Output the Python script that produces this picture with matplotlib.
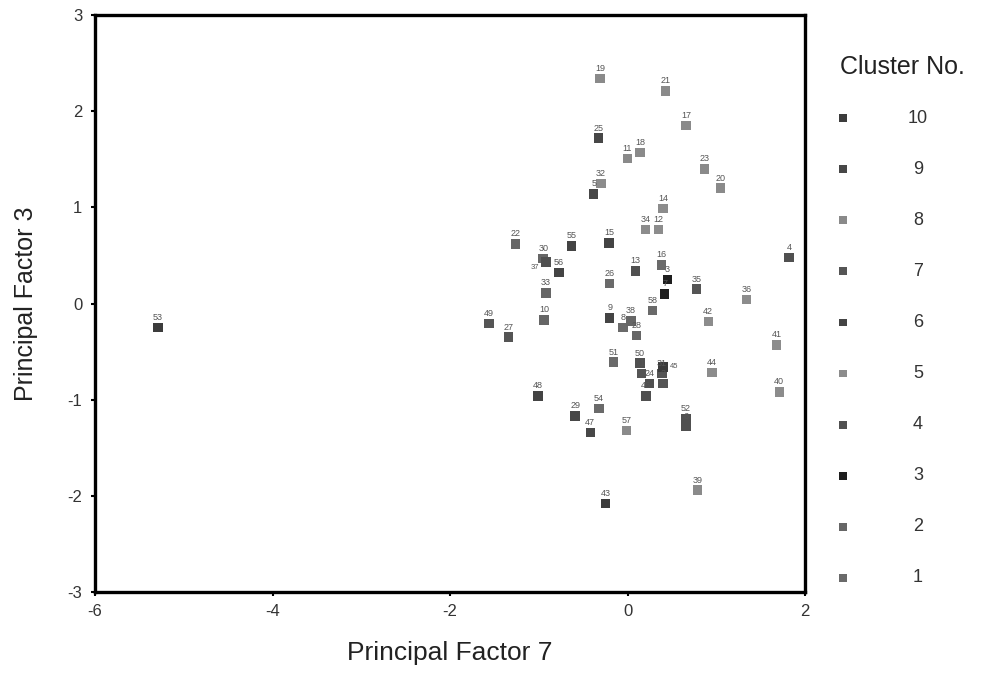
import numpy as np
import matplotlib.pyplot as plt

plt.rcParams['font.family'] = ['Liberation Sans', 'DejaVu Sans']
plt.rcParams['axes.unicode_minus'] = False

# Case labels, positions on the two factors and cluster membership
labels = [53, 19, 21, 17, 25, 18, 11, 23, 20, 32,
          5, 14, 34, 12, 22, 55, 15, 4, 30, 37,
          56, 16, 13, 26, 3, 33, 35, 36, 7, 58,
          49, 27, 10, 9, 8, 38, 28, 42, 41, 51,
          50, 1, 24, 31, 2, 46, 45, 44, 40, 48,
          54, 29, 47, 57, 52, 6, 39, 43]
factor7 = [-5.29, -0.31, 0.43, 0.66, -0.33, 0.14, 0.00, 0.87, 1.05, -0.30,
           -0.38, 0.40, 0.20, 0.35, -1.26, -0.63, -0.21, 1.82, -0.95, -0.92,
           -0.77, 0.38, 0.09, -0.20, 0.45, -0.92, 0.78, 1.34, 0.42, 0.28,
           -1.56, -1.34, -0.94, -0.20, -0.05, 0.04, 0.10, 0.91, 1.68, -0.16,
           0.14, 0.16, 0.25, 0.39, 0.40, 0.21, 0.40, 0.95, 1.71, -1.01,
           -0.32, -0.59, -0.42, -0.01, 0.66, 0.66, 0.79, -0.25]
factor3 = [-0.25, 2.34, 2.21, 1.85, 1.72, 1.57, 1.51, 1.40, 1.20, 1.25,
           1.14, 0.99, 0.77, 0.77, 0.62, 0.60, 0.63, 0.48, 0.47, 0.43,
           0.32, 0.40, 0.34, 0.21, 0.25, 0.11, 0.15, 0.04, 0.10, -0.07,
           -0.21, -0.35, -0.17, -0.15, -0.25, -0.18, -0.33, -0.19, -0.43, -0.61,
           -0.62, -0.73, -0.83, -0.73, -0.83, -0.96, -0.66, -0.72, -0.92, -0.96,
           -1.09, -1.17, -1.34, -1.32, -1.20, -1.28, -1.94, -2.08]
cluster = [10, 8, 8, 8, 9, 8, 8, 8, 8, 5,
           9, 5, 5, 5, 2, 6, 6, 4, 2, 4,
           6, 1, 4, 1, 3, 2, 7, 5, 3, 1,
           7, 7, 2, 6, 1, 2, 2, 5, 5, 1,
           4, 7, 4, 7, 7, 4, 10, 5, 5, 6,
           1, 9, 9, 8, 4, 4, 8, 10]

cluster_ids = [10, 9, 8, 7, 6, 5, 4, 3, 2, 1]
cluster_colors = {1: '#6a6a6a', 2: '#666666', 3: '#1e1e1e', 4: '#505050',
                  5: '#8c8c8c', 6: '#444444', 7: '#555555', 8: '#8a8a8a',
                  9: '#474747', 10: '#3c3c3c'}

# labels that sit on top of a neighbour get nudged sideways
side_labels = {37: (-5, -4, 'right'), 45: (5, 0, 'left')}

fig = plt.figure(figsize=(9.82, 6.92), dpi=100)
ax = fig.add_axes([95 / 982, 100 / 692, 710 / 982, 577 / 692])

colors = [cluster_colors[c] for c in cluster]
ax.scatter(factor7, factor3, marker='s', s=46, c=colors, linewidths=0, zorder=3)
for lab, x, y in zip(labels, factor7, factor3):
    if lab in side_labels:
        dx, dy, ha = side_labels[lab]
        ax.annotate(str(lab), (x, y), xytext=(dx, dy), textcoords='offset points',
                    ha=ha, va='center', fontsize=5.5, color='#555555')
    else:
        ax.annotate(str(lab), (x, y), xytext=(0, 4), textcoords='offset points',
                    ha='center', va='bottom', fontsize=6.5, color='#555555')

ax.set_xlim(-6, 2)
ax.set_ylim(-3, 3)
ax.set_xticks([-6, -4, -2, 0, 2])
ax.set_yticks([-3, -2, -1, 0, 1, 2, 3])
ax.tick_params(direction='out', length=3, width=1.5, labelsize=12,
               labelcolor='#333333', pad=6)
for sp in ax.spines.values():
    sp.set_linewidth(2.4)

ax.set_xlabel('Principal Factor 7', fontsize=19, color='#222222')
ax.set_ylabel('Principal Factor 3', fontsize=18, color='#222222')
ax.xaxis.set_label_coords(0.5, -0.085)
ax.yaxis.set_label_coords(-0.08, 0.5)

# legend drawn in its own small axes
lax = fig.add_axes([820 / 982, 63 / 692, 160 / 982, 562 / 692])
lax.set_xlim(0, 160)
lax.set_ylim(0, 11)
lax.axis('off')
lax.scatter([23] * len(cluster_ids), cluster_ids, marker='s', s=32,
            c=[cluster_colors[c] for c in cluster_ids], linewidths=0)
for c in cluster_ids:
    lax.text(98, c, str(c), ha='center', va='center', fontsize=13, color='#333333')
lax.text(82, 11, 'Cluster No.', ha='center', va='center', fontsize=18, color='#222222')

fig.savefig('out.png', dpi=100)
